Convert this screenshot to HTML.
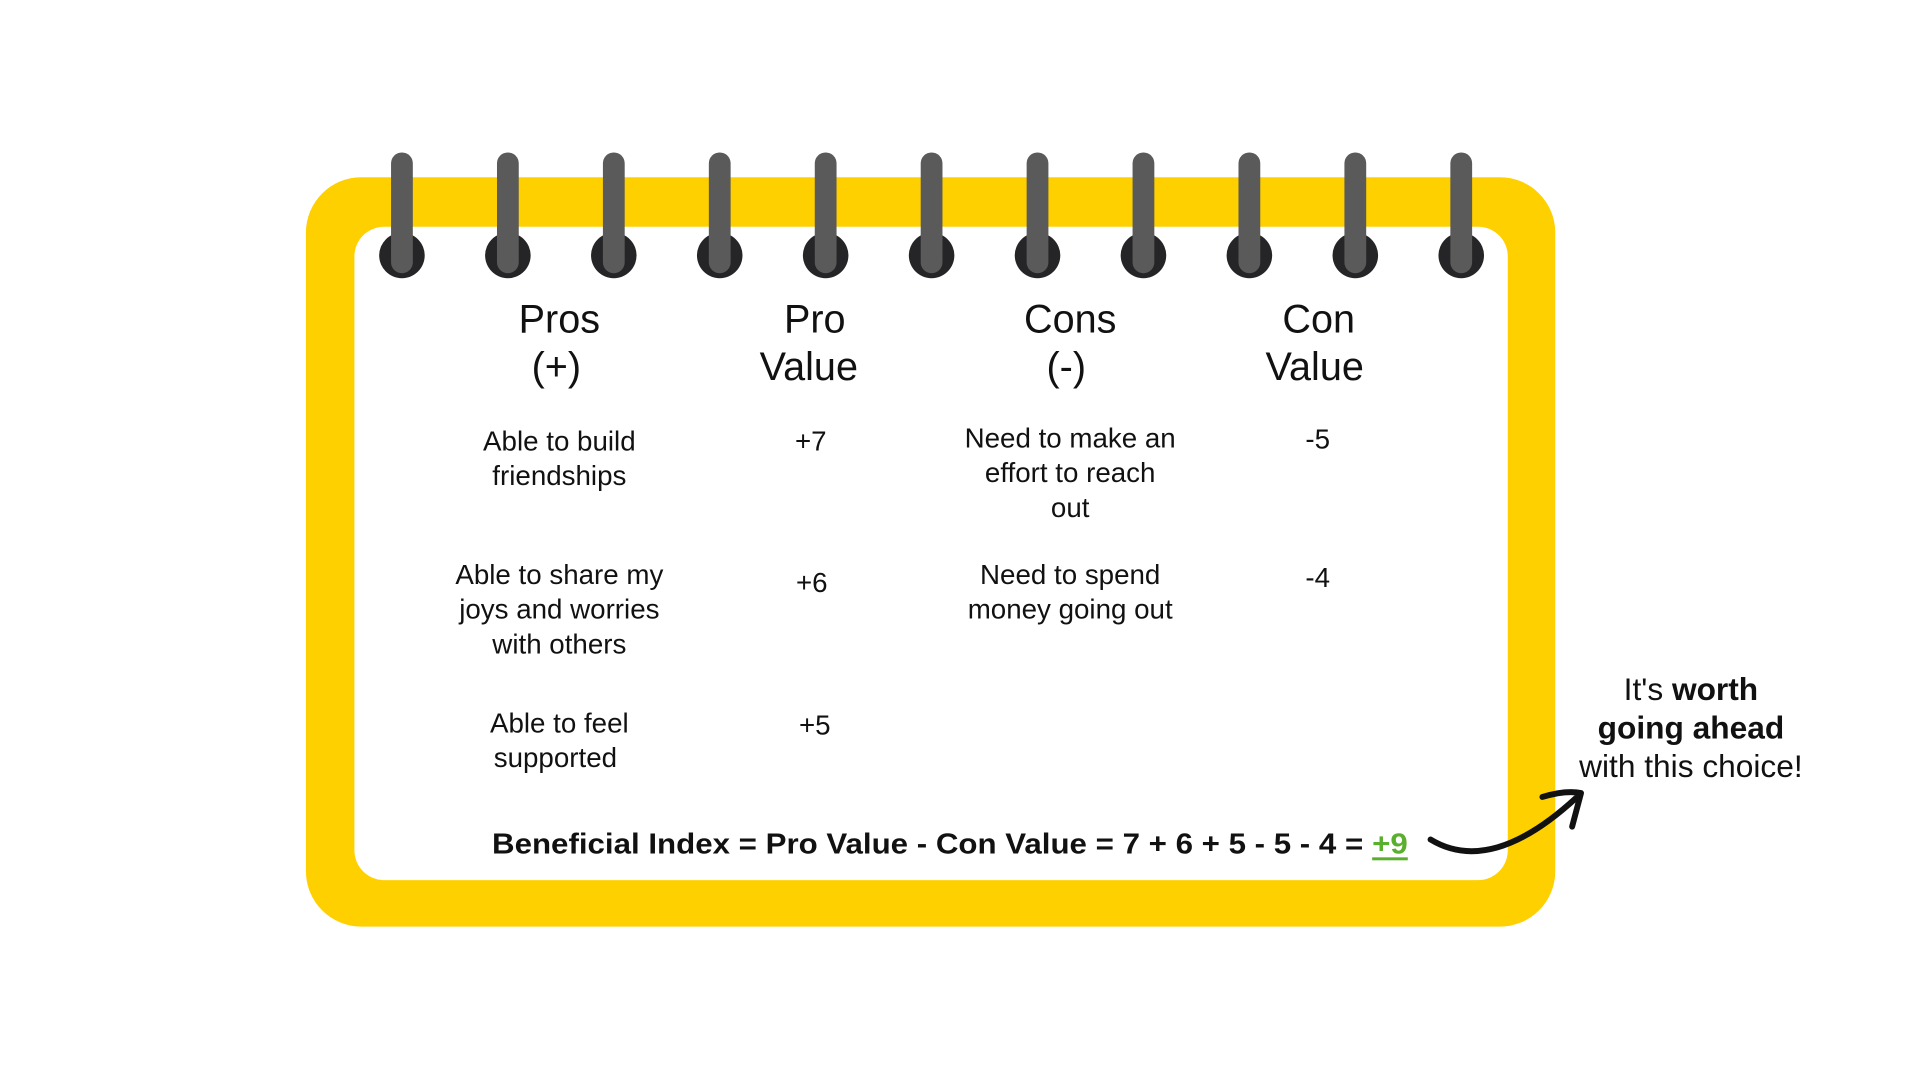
<!DOCTYPE html>
<html><head><meta charset="utf-8"><style>
html,body{margin:0;padding:0;background:#fff;}
svg{display:block;}
text{font-family:"Liberation Sans",sans-serif;fill:#111;}
</style></head><body>
<svg width="1920" height="1080" viewBox="0 0 1920 1080">
<g transform="scale(0.99)">
<rect x="309" y="179" width="1262" height="757" rx="56" fill="#FFD000"/>
<rect x="358" y="229" width="1165" height="660" rx="30" fill="#fff"/>
<g id="rings"></g>

<g text-anchor="middle" font-size="40">
<text x="565" y="336">Pros</text>
<text x="562" y="384">(+)</text>
<text x="823" y="336">Pro</text>
<text x="817" y="384">Value</text>
<text x="1081" y="336">Cons</text>
<text x="1077" y="384">(-)</text>
<text x="1332" y="336">Con</text>
<text x="1328" y="384">Value</text>
</g>

<g text-anchor="middle" font-size="28">
<text x="565" y="455"><tspan x="565">Able to build</tspan><tspan x="565" dy="35">friendships</tspan></text>
<text x="819" y="455">+7</text>
<text x="1081" y="452"><tspan x="1081">Need to make an</tspan><tspan x="1081" dy="35">effort to reach</tspan><tspan x="1081" dy="35">out</tspan></text>
<text x="1331" y="453">-5</text>

<text x="565" y="590"><tspan x="565">Able to share my</tspan><tspan x="565" dy="35">joys and worries</tspan><tspan x="565" dy="35">with others</tspan></text>
<text x="820" y="598">+6</text>
<text x="1081" y="590"><tspan x="1081">Need to spend</tspan><tspan x="1081" dy="35">money going out</tspan></text>
<text x="1331" y="593">-4</text>

<text x="565" y="740"><tspan x="565">Able to feel</tspan><tspan x="561" dy="35">supported</tspan></text>
<text x="823" y="742">+5</text>
</g>

<text x="497" y="862" font-size="29" font-weight="bold" textLength="880" lengthAdjust="spacingAndGlyphs">Beneficial Index = Pro Value - Con Value = 7 + 6 + 5 - 5 - 4 =</text>
<text x="1386" y="862" font-size="29" font-weight="bold" style="fill:#5BAF2E" textLength="36" lengthAdjust="spacingAndGlyphs">+9</text>
<rect x="1386" y="866" width="36" height="3" fill="#5BAF2E"/>

<g transform="translate(9,-20)">
<path d="M1436,868 Q1497,905 1583,826" fill="none" stroke="#111" stroke-width="6" stroke-linecap="round"/>
<path d="M1549,825 Q1572,818 1588,821 Q1583,840 1579,855" fill="none" stroke="#111" stroke-width="6" stroke-linecap="round" stroke-linejoin="round"/>
</g>

<g text-anchor="middle" font-size="32">
<text x="1708" y="707"><tspan>It's </tspan><tspan font-weight="bold">worth</tspan></text>
<text x="1708" y="746" font-weight="bold">going ahead</text>
<text x="1708" y="785">with this choice!</text>
</g>
</g>
</svg>
<script>
const ringIndex=[0,1,2,3,4,5,6,7,8,9,10];
const g=document.getElementById('rings');
const ns='http://www.w3.org/2000/svg';
ringIndex.forEach(i=>{
  const x=406+107*i;
  const c=document.createElementNS(ns,'ellipse');
  c.setAttribute('cx',x);c.setAttribute('cy',258);c.setAttribute('rx',23);c.setAttribute('ry',23);c.setAttribute('fill','#252527');
  
  
  g.appendChild(c);
  const r=document.createElementNS(ns,'rect');
  r.setAttribute('x',x-11);r.setAttribute('y',154);r.setAttribute('width',22);r.setAttribute('height',122);r.setAttribute('rx',11);r.setAttribute('fill','#5a5a5a');
  
  
  g.appendChild(r);
});
</script>
</body></html>
